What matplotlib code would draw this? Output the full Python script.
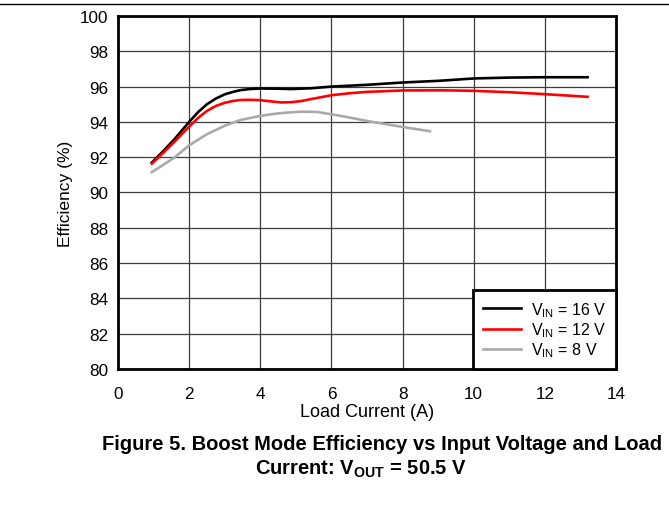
import matplotlib
matplotlib.use("Agg")
import matplotlib.pyplot as plt
from matplotlib.lines import Line2D

plt.rcParams['font.family'] = ['Liberation Sans', 'DejaVu Sans']
plt.rcParams['mathtext.fontset'] = 'custom'
plt.rcParams['mathtext.rm'] = 'Liberation Sans'
plt.rcParams['mathtext.it'] = 'Liberation Sans:italic'
plt.rcParams['mathtext.bf'] = 'Liberation Sans:bold'

# Data
x16 = [0.95, 1.3, 1.6, 2.0, 2.25, 2.5, 2.75, 3.0, 3.25, 3.45, 3.7, 4.0, 4.5, 4.85, 5.4, 6.0, 7.0, 8.0, 9.05, 10.0, 11.0, 12.0, 13.2]
y16 = [91.69, 92.4, 93.05, 94.0, 94.55, 95.0, 95.32, 95.56, 95.71, 95.8, 95.86, 95.89, 95.88, 95.86, 95.9, 96.0, 96.1, 96.23, 96.33, 96.46, 96.51, 96.53, 96.53]

x12 = [0.95, 1.3, 1.6, 2.0, 2.25, 2.5, 2.75, 3.0, 3.25, 3.45, 3.7, 4.0, 4.3, 4.6, 4.9, 5.15, 5.4, 6.0, 6.5, 7.0, 8.0, 9.05, 10.0, 11.0, 12.0, 13.2]
y12 = [91.63, 92.3, 92.9, 93.73, 94.22, 94.62, 94.9, 95.08, 95.19, 95.24, 95.25, 95.23, 95.16, 95.1, 95.12, 95.18, 95.28, 95.51, 95.62, 95.7, 95.78, 95.79, 95.76, 95.68, 95.57, 95.42]

x8 = [0.95, 1.3, 1.6, 2.0, 2.5, 3.0, 3.45, 4.0, 4.45, 4.85, 5.2, 5.6, 6.0, 6.5, 7.0, 7.5, 8.0, 8.77]
y8 = [91.15, 91.6, 92.0, 92.67, 93.3, 93.78, 94.11, 94.34, 94.47, 94.54, 94.58, 94.56, 94.43, 94.25, 94.05, 93.88, 93.71, 93.47]

xticks = [0, 2, 4, 6, 8, 10, 12, 14]
yticks = [80, 82, 84, 86, 88, 90, 92, 94, 96, 98, 100]

fig = plt.figure(figsize=(6.69, 5.06), dpi=100)
ax = fig.add_axes([0.1764, 0.2690, 0.9208 - 0.1764, 0.9664 - 0.2690])

ax.plot(x16, y16, color='black', lw=1.9, label=r'V$_{\mathrm{IN}}$ = 16 V', zorder=3)
ax.plot(x12, y12, color='#ff0000', lw=1.9, label=r'V$_{\mathrm{IN}}$ = 12 V', zorder=3)
ax.plot(x8, y8, color='#aaaaaa', lw=1.9, label=r'V$_{\mathrm{IN}}$ = 8 V', zorder=3)

ax.set_xlim(0, 14)
ax.set_ylim(80, 100)
ax.set_xticks(xticks)
ax.set_yticks(yticks)
ax.tick_params(length=0, labelsize=12.3)
ax.tick_params(axis='y', pad=7)
ax.tick_params(axis='x', pad=12)
ax.grid(True, color='#3c3c3c', lw=0.9)
ax.set_axisbelow(True)
for s in ax.spines.values():
    s.set_linewidth(2)
    s.set_color('black')

ax.set_xlabel('Load Current (A)', fontsize=13, labelpad=2)
ax.set_ylabel('Efficiency (%)', fontsize=12.5, labelpad=5)

leg = ax.legend(loc='lower right', borderaxespad=0, fontsize=11.5, frameon=True,
                fancybox=False, edgecolor='black', handlelength=2.4,
                labelspacing=0.1, borderpad=0.6, handletextpad=0.6)
leg.get_frame().set_linewidth(2)
leg.get_frame().set_alpha(1)
leg.set_zorder(5)

fig.add_artist(Line2D([0, 1], [1 - 5/506, 1 - 5/506], color='black', lw=1))

fig.text(382/669, 1 - 450/506, 'Figure 5. Boost Mode Efficiency vs Input Voltage and Load',
         ha='center', va='baseline', fontsize=14.5, fontweight='bold')
fig.text(361/669, 1 - 475/506, r'Current: V$_{\mathbf{OUT}}$ = 50.5 V',
         ha='center', va='baseline', fontsize=14.5, fontweight='bold')

fig.savefig('out.png', dpi=100)
